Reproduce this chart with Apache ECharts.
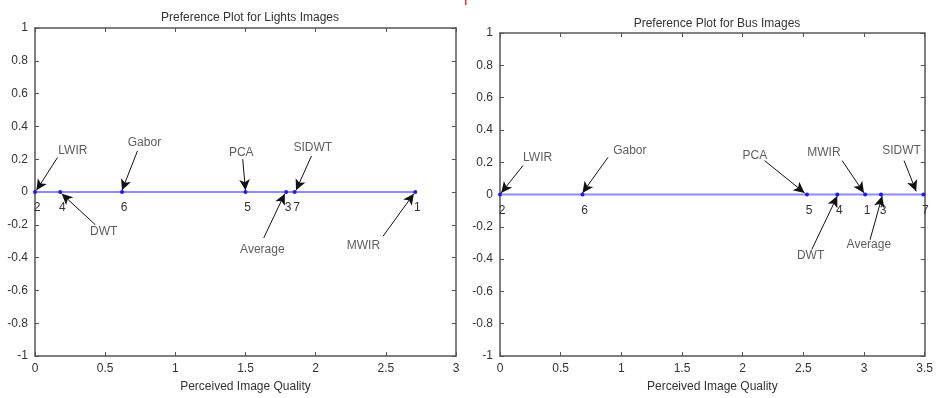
<!DOCTYPE html>
<html><head><meta charset="utf-8">
<script src="https://cdn.jsdelivr.net/npm/echarts@6/dist/echarts.min.js"></script>
<style>html,body{margin:0;padding:0;background:#fff}#c{width:936px;height:398px}</style>
</head><body><div id="c"></div>
<script>
// Image numbers 1..7 and their perceived quality scores
const imageIds = ['1','2','3','4','5','6','7'];
const lightsScores = [2.71, 0.00, 1.79, 0.18, 1.50, 0.62, 1.85];
const busScores    = [3.01, 0.00, 3.14, 2.78, 2.53, 0.68, 3.49];

const titles = ['Preference Plot for Lights Images', 'Preference Plot for Bus Images'];
const xAxisName = 'Perceived Image Quality';
const xMax = [3, 3.5];

// annotations: method name, text anchor [x,y], arrow tail [x,y], arrow head [x,y]
const lightsNotes = ['LWIR','Gabor','DWT','PCA','SIDWT','Average','MWIR'];
const lightsText  = [[0.27,0.25],[0.78,0.30],[0.49,-0.24],[1.47,0.24],[1.98,0.27],[1.62,-0.35],[2.34,-0.33]];
const lightsTail  = [[0.16,0.21],[0.73,0.25],[0.43,-0.20],[1.48,0.20],[1.97,0.22],[1.63,-0.28],[2.48,-0.27]];
const lightsHead  = [[0.01,0.01],[0.62,0.01],[0.19,-0.01],[1.50,0.01],[1.86,0.01],[1.78,-0.01],[2.70,-0.01]];

const busNotes = ['LWIR','Gabor','PCA','MWIR','SIDWT','DWT','Average'];
const busText  = [[0.31,0.23],[1.07,0.27],[2.10,0.24],[2.67,0.26],[3.31,0.27],[2.56,-0.38],[3.04,-0.31]];
const busTail  = [[0.19,0.18],[0.89,0.23],[2.18,0.21],[2.82,0.21],[3.33,0.21],[2.57,-0.34],[3.05,-0.28]];
const busHead  = [[0.01,0.01],[0.68,0.01],[2.51,0.01],[3.00,0.01],[3.43,0.02],[2.78,-0.01],[3.15,-0.01]];

const FONT = 'Liberation Sans, Arial, sans-serif';
const TXT = '#333';
const AX = '#555';

function build(i, scores, notes, textPos, tail, head) {
  const pts = imageIds.map((id, k) => ({value: [scores[k], 0], name: id}))
    .sort((a, b) => a.value[0] - b.value[0]);
  return [
    {
      type: 'line', xAxisIndex: 2*i, yAxisIndex: 2*i,
      data: pts, symbol: 'circle', symbolSize: 4,
      itemStyle: {color: '#1a1aff'},
      lineStyle: {color: '#8c8cff', width: 2},
      label: {show: true, position: 'bottom', distance: 8, offset: [2, 0],
        formatter: p => p.name, color: TXT, fontSize: 12, fontFamily: FONT},
      z: 3, animation: false
    },
    {
      type: 'scatter', xAxisIndex: 2*i, yAxisIndex: 2*i,
      data: notes.map((n, k) => ({value: textPos[k], name: n})),
      symbolSize: 1, itemStyle: {color: 'rgba(0,0,0,0)'},
      label: {show: true, position: 'inside', formatter: p => p.name,
        color: TXT, fontSize: 12, fontFamily: FONT},
      markLine: {
        silent: true, symbol: ['none', 'arrow'], symbolSize: [8, 11],
        lineStyle: {color: '#111', width: 1, type: 'solid'},
        label: {show: false},
        data: tail.map((t, k) => [{coord: t}, {coord: head[k]}])
      },
      animation: false
    }
  ];
}

const grids = [
  {left: 35, top: 28, width: 421, height: 331},
  {left: 500, top: 33, width: 426, height: 327}
];

const xAxes = [], yAxes = [];
[0, 1].forEach(i => {
  const base = {
    type: 'value', gridIndex: i, min: 0, max: xMax[i], interval: 0.5,
    splitLine: {show: false},
    axisLine: {show: true, onZero: false, lineStyle: {color: AX, width: 1.5}},
    axisTick: {show: true, inside: true, length: 4, lineStyle: {color: AX}}
  };
  xAxes.push(Object.assign({}, base, {
    position: 'bottom',
    axisLabel: {color: TXT, fontSize: 12, fontFamily: FONT, margin: 7,
      formatter: v => String(+v.toFixed(1)), showMaxLabel: true, showMinLabel: true},
    name: xAxisName, nameLocation: 'middle', nameGap: 25,
    nameTextStyle: {color: TXT, fontSize: 12, fontFamily: FONT}
  }));
  xAxes.push(Object.assign({}, base, {position: 'top', axisLabel: {show: false}}));
  const ybase = {
    type: 'value', gridIndex: i, min: -1, max: 1, interval: 0.2,
    splitLine: {show: false},
    axisLine: {show: true, onZero: false, lineStyle: {color: AX, width: 1.5}},
    axisTick: {show: true, inside: true, length: 4, lineStyle: {color: AX}}
  };
  yAxes.push(Object.assign({}, ybase, {
    position: 'left',
    axisLabel: {color: TXT, fontSize: 12, fontFamily: FONT, margin: 7,
      formatter: v => String(+v.toFixed(1))}
  }));
  yAxes.push(Object.assign({}, ybase, {position: 'right', axisLabel: {show: false}}));
});

const chart = echarts.init(document.getElementById('c'), null, {renderer: 'canvas'});
chart.setOption({
  animation: false,
  backgroundColor: '#fff',
  title: [
    {text: titles[0], left: 245, top: 7, textAlign: 'center',
      textStyle: {color: TXT, fontSize: 12, fontWeight: 'normal', fontFamily: FONT}},
    {text: titles[1], left: 712, top: 13, textAlign: 'center',
      textStyle: {color: TXT, fontSize: 12, fontWeight: 'normal', fontFamily: FONT}}
  ],
  grid: grids,
  xAxis: xAxes,
  yAxis: yAxes,
  graphic: [{type: 'rect', shape: {x: 465, y: 0, width: 1.5, height: 5}, style: {fill: '#e33'}}],
  series: [].concat(
    build(0, lightsScores, lightsNotes, lightsText, lightsTail, lightsHead),
    build(1, busScores, busNotes, busText, busTail, busHead)
  )
});
</script></body></html>
